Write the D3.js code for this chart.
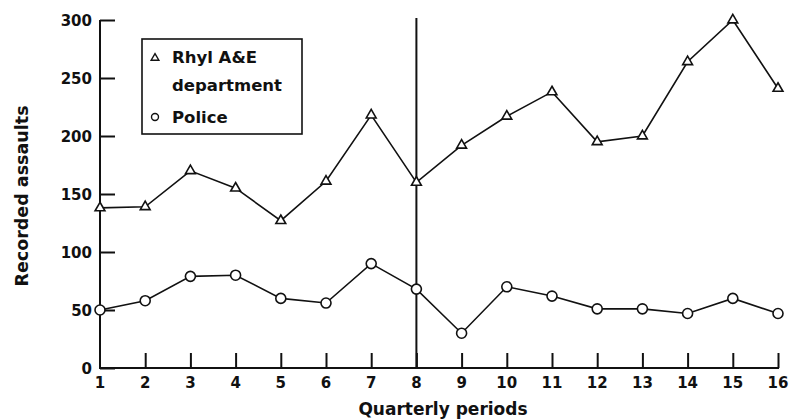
<!DOCTYPE html>
<html><head><meta charset="utf-8">
<script src="https://cdn.jsdelivr.net/npm/d3@7"></script>
<style>
body{margin:0;background:#fff;}
svg text{font-family:"DejaVu Sans",sans-serif;font-weight:bold;fill:#111;}
</style></head>
<body><svg id="c" width="790" height="420"></svg>
<script>
const periods = [1,2,3,4,5,6,7,8,9,10,11,12,13,14,15,16];
const aeValues = [138,139,170,155,127,161,218,160,192,217,238,195,200,264,300,241];
const policeValues = [50,58,79,80,60,56,90,68,30,70,62,51,51,47,60,47];
const yTicks = [0,50,100,150,200,250,300];
const seriesNames = ["Rhyl A&E", "department", "Police"];
const interventionPeriod = 8;

const svg = d3.select("#c");
const x = d3.scaleLinear().domain([1,16]).range([100,778]);
const y = d3.scaleLinear().domain([0,300]).range([368,20]);
const ink = "#111";

// Y axis with inward ticks
const yAxis = d3.axisRight(y).tickValues(yTicks).tickSize(15).tickFormat("");
const gy = svg.append("g").attr("transform","translate(100,0)").call(yAxis);
gy.select(".domain").remove();
gy.selectAll(".tick line").attr("stroke",ink).attr("stroke-width",2);
svg.append("line").attr("x1",100).attr("x2",100).attr("y1",y(300)).attr("y2",y(0)+1).attr("stroke",ink).attr("stroke-width",2);
svg.selectAll(".ylab").data(yTicks).enter().append("text")
  .attr("x",92).attr("y",d=>y(d)+5.5).attr("text-anchor","end").attr("font-size",15).text(d=>d);

// X axis with upward ticks
const xAxis = d3.axisTop(x).tickValues(periods.slice(1)).tickSize(15).tickFormat("");
const gx = svg.append("g").attr("transform",`translate(0,${y(0)})`).call(xAxis);
gx.select(".domain").remove();
gx.selectAll(".tick line").attr("stroke",ink).attr("stroke-width",2);
svg.append("line").attr("x1",99).attr("x2",x(16)+1).attr("y1",y(0)).attr("y2",y(0)).attr("stroke",ink).attr("stroke-width",2);
svg.selectAll(".xlab").data(periods).enter().append("text")
  .attr("x",d=>x(d)).attr("y",388).attr("text-anchor","middle").attr("font-size",15).text(d=>d);

// axis titles
svg.append("text").attr("transform","translate(28,196) rotate(-90)").attr("text-anchor","middle")
  .attr("font-size",17.5).text("Recorded assaults");
svg.append("text").attr("x",443).attr("y",415).attr("text-anchor","middle").attr("font-size",17).text("Quarterly periods");

// intervention line
svg.append("line").attr("x1",x(interventionPeriod)).attr("x2",x(interventionPeriod))
  .attr("y1",18).attr("y2",y(0)).attr("stroke",ink).attr("stroke-width",2);

const line = d3.line().x((d,i)=>x(periods[i])).y(d=>y(d));
svg.append("path").datum(aeValues).attr("d",line).attr("fill","none").attr("stroke",ink).attr("stroke-width",1.6);
svg.append("path").datum(policeValues).attr("d",line).attr("fill","none").attr("stroke",ink).attr("stroke-width",1.6);

const tri = d3.symbol().type(d3.symbolTriangle).size(42);
svg.selectAll(".tri").data(aeValues).enter().append("path")
  .attr("d",tri).attr("transform",(d,i)=>`translate(${x(periods[i])},${y(d)})`)
  .attr("fill","#fff").attr("stroke",ink).attr("stroke-width",1.6);
svg.selectAll(".circ").data(policeValues).enter().append("circle")
  .attr("cx",(d,i)=>x(periods[i])).attr("cy",d=>y(d)).attr("r",5)
  .attr("fill","#fff").attr("stroke",ink).attr("stroke-width",1.6);

// legend
const lg = svg.append("g");
lg.append("rect").attr("x",142).attr("y",39).attr("width",160).attr("height",95)
  .attr("fill","#fff").attr("stroke",ink).attr("stroke-width",1.6);
lg.append("path").attr("d",d3.symbol().type(d3.symbolTriangle).size(26)).attr("transform","translate(155,58)")
  .attr("fill","#fff").attr("stroke",ink).attr("stroke-width",1.4);
lg.append("text").attr("x",172).attr("y",63).attr("font-size",16.5).text(seriesNames[0]);
lg.append("text").attr("x",172).attr("y",91).attr("font-size",16.5).text(seriesNames[1]);
lg.append("circle").attr("cx",155).attr("cy",117).attr("r",3.5)
  .attr("fill","#fff").attr("stroke",ink).attr("stroke-width",1.4);
lg.append("text").attr("x",172).attr("y",123).attr("font-size",16.5).text(seriesNames[2]);
</script></body></html>
